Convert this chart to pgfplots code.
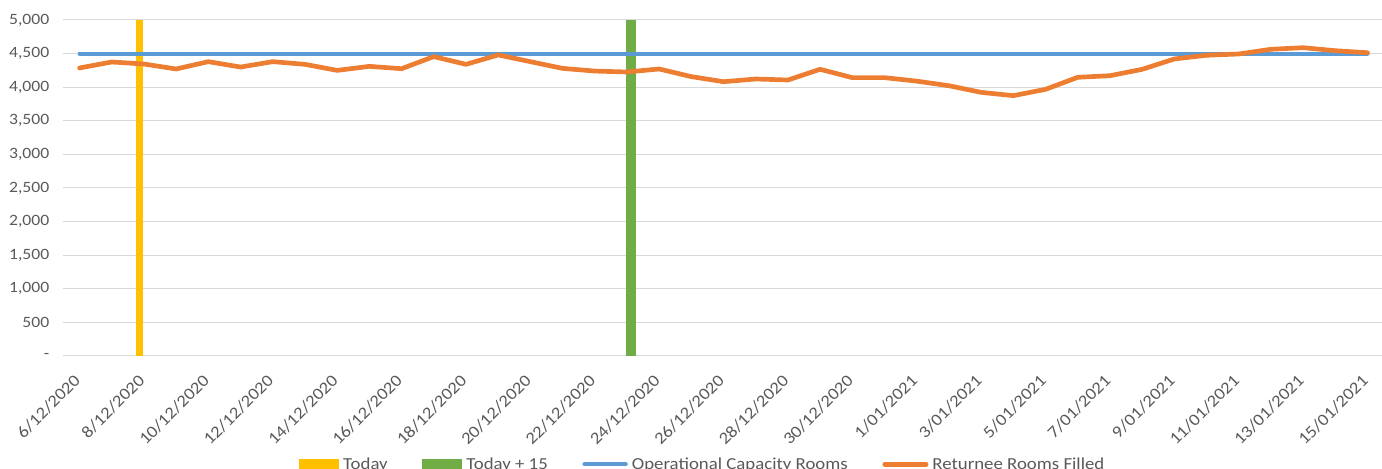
\documentclass[border=0pt]{standalone}
\usepackage{fontspec}
\setmainfont{Carlito}[FakeStretch=1.12]
\usepackage{pgfplots}
\pgfplotsset{compat=1.18}

\definecolor{cOrange}{HTML}{ED7D31}
\definecolor{cBlue}{HTML}{5B9BD5}
\definecolor{cYellow}{HTML}{FFC000}
\definecolor{cGreen}{HTML}{70AD47}
\definecolor{cGrid}{HTML}{D9D9D9}
\definecolor{cText}{HTML}{595959}

% Returnee Rooms Filled, day index 0 = 6/12/2020
\pgfplotstableread{
x y
0 4286
1 4375
2 4345
3 4271
4 4380
5 4300
6 4380
7 4340
8 4250
9 4310
10 4275
11 4455
12 4340
13 4480
14 4380
15 4280
16 4240
17 4226
18 4271
19 4157
20 4082
21 4122
22 4107
23 4266
24 4142
25 4142
26 4090
27 4022
28 3923
29 3874
30 3968
31 4147
32 4171
33 4266
34 4420
35 4475
36 4494
37 4564
38 4588
39 4543
40 4513
}\filled

\begin{document}
\begin{tikzpicture}
\begin{axis}[
    scale only axis,
    width=988.9pt, height=252pt,
    xmin=-0.5, xmax=40.45,
    ymin=0, ymax=5000,
    xtick={0,2,...,40},
    xticklabels={6/12/2020,8/12/2020,10/12/2020,12/12/2020,14/12/2020,16/12/2020,
        18/12/2020,20/12/2020,22/12/2020,24/12/2020,26/12/2020,28/12/2020,30/12/2020,
        1/01/2021,3/01/2021,5/01/2021,7/01/2021,9/01/2021,11/01/2021,13/01/2021,15/01/2021},
    ytick={0,500,...,5000},
    yticklabels={-,500,{1,000},{1,500},{2,000},{2,500},{3,000},{3,500},{4,000},{4,500},{5,000}},
    ymajorgrids,
    grid style={draw=cGrid, line width=0.75pt},
    axis line style={draw=none},
    major tick length=0pt,
    tick label style={font=\fontsize{12.6}{14}\selectfont, text=cText},
    xticklabel style={rotate=45, anchor=north east, inner sep=0pt, xshift=-12.5pt, yshift=-5.5pt},
    yticklabel style={anchor=east, inner sep=0pt, xshift=-10.5pt, font=\fontsize{11.8}{14}\selectfont},
    legend columns=4,
    legend style={draw=none, fill=none, inner sep=0pt,
        at={(axis description cs:0.1786,-0.322)}, anchor=west,
        font=\fontsize{12.6}{15}\selectfont, text=cText,
        nodes={inner xsep=3pt, inner ysep=0pt},
        /tikz/every even column/.append style={column sep=23pt}},
]

\addplot[ybar, bar width=5.25pt, bar shift=-3pt, fill=cYellow, draw=none,
    legend image code/.code={\fill[cYellow] (0pt,-3.8pt) rectangle (30pt,3.8pt);}]
    coordinates {(2,5000)};
\addlegendentry{Today}

\addplot[ybar, bar width=7.5pt, bar shift=2.7pt, fill=cGreen, draw=none,
    legend image code/.code={\fill[cGreen] (0pt,-3.8pt) rectangle (30pt,3.8pt);}]
    coordinates {(17,5000)};
\addlegendentry{Today + 15}

\addplot[cBlue, line width=3pt, line cap=round, mark=none,
    legend image code/.code={\draw[cBlue, line width=3pt, line cap=round] (1.5pt,0pt) -- (32.5pt,0pt);}]
    coordinates {(0,4500) (40,4500)};
\addlegendentry{Operational Capacity Rooms}

\addplot[cOrange, line width=3.5pt, line cap=round, line join=round, mark=none,
    legend image code/.code={\draw[cOrange, line width=3.5pt, line cap=round] (1.5pt,0pt) -- (32.5pt,0pt);}]
    table[x=x, y=y] {\filled};
\addlegendentry{Returnee Rooms Filled}

\coordinate (sw) at (rel axis cs:0,0);
\coordinate (ne) at (rel axis cs:1,1);
\end{axis}
\pgfresetboundingbox
\path[use as bounding box] ([xshift=-47.6pt, yshift=-84.75pt]sw) rectangle ([yshift=15pt]ne);
\end{tikzpicture}
\end{document}
